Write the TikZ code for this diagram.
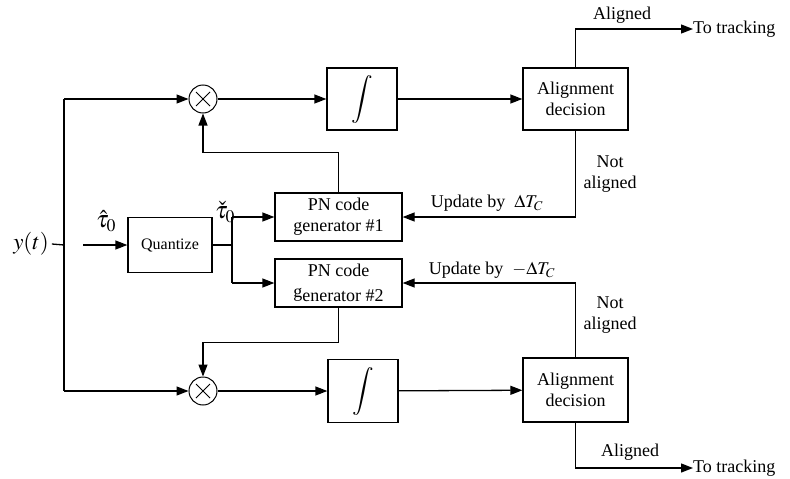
\documentclass[tikz,border=0pt]{standalone}
\usepackage{mathptmx}
\usepackage{fontspec}
\setmainfont{Liberation Serif}
\usetikzlibrary{arrows.meta,calc}
\tikzset{
  blk/.style={draw,line width=1.3pt,inner sep=0pt,align=center,font=\fontsize{18}{21}\selectfont},
  mult/.style={draw,circle,line width=1pt,minimum size=28pt,inner sep=0pt,
    path picture={\draw[line width=0.8pt] (path picture bounding box.north west)++(7,7) -- ++(14,14);
                  \draw[line width=0.8pt] (path picture bounding box.north west)++(21,7) -- ++(-14,14);}},
  wire/.style={line width=1.3pt},
  arr/.style={wire,-{Triangle[length=12pt,width=9pt]}},
  lbl/.style={font=\fontsize{18}{21}\selectfont,align=center,inner sep=0pt},
}
\begin{document}
\begin{tikzpicture}[x=1pt,y=-1pt]
\useasboundingbox (0,0) rectangle (790,479);
% nodes
\node[lbl,font=\fontsize{23}{26}\selectfont] (yt) at (31,244) {$y(t)$};
\node[mult] (m1) at (203,99) {};
\node[mult] (m2) at (203,391) {};
\node[blk,minimum width=70pt,minimum height=62pt] (int1) at (362,99) {\fontsize{24}{26}\selectfont$\displaystyle\int$};
\node[blk,minimum width=70pt,minimum height=63pt] (int2) at (363,391) {\fontsize{24}{26}\selectfont$\displaystyle\int$};
\node[blk,minimum width=105pt,minimum height=62pt] (ad1) at (575.5,99) {Alignment\\decision};
\node[blk,minimum width=105pt,minimum height=64pt] (ad2) at (575.5,390) {Alignment\\decision};
\node[blk,minimum width=127pt,minimum height=48pt] (pn1) at (338.5,217) {PN code\\generator \#1};
\node[blk,minimum width=127pt,minimum height=48pt] (pn2) at (338.5,283) {PN code\\g\raisebox{-0.45ex}{enerator \#2}};
\node[blk,minimum width=84pt,minimum height=55pt,font=\fontsize{16}{19}\selectfont] (q) at (170,245) {Quantize};
\node[lbl,anchor=west] (tt1) at (693,29) {To tracking};
\node[lbl,anchor=west] (tt2) at (693,468) {To tracking};
\node[lbl] (al1) at (622,15) {Aligned};
\node[lbl] (al2) at (630,452) {Aligned};
\node[lbl] (na1) at (610,174) {Not\\aligned};
\node[lbl] (na2) at (610,315) {Not\\aligned};
\node[lbl] (up1) at (487,203) {Update by \ $\Delta T_C$};
\node[lbl] (up2) at (492,270) {Update by \ $-\Delta T_C$};
\node[lbl,font=\fontsize{24}{26}\selectfont] (th) at (106,221) {$\hat{\tau}_0$};
\node[lbl,font=\fontsize{24}{26}\selectfont] (tc) at (225,212) {$\check{\tau}_0$};
% coordinates
\coordinate (v1) at (64,99);
\coordinate (v2) at (64,391);
\coordinate (vs) at (64,245);
\coordinate (qin) at (83,245);
\coordinate (j) at (232,245);
\coordinate (jt) at (232,217);
\coordinate (jb) at (232,283);
% connectors
\draw[wire] (yt.east) ++(3,0) -- (vs);
\draw[wire] (v1) -- (v2);
\draw[arr] (v1) -- (m1);
\draw[arr] (v2) -- (m2);
\draw[arr] (m1) -- (int1);
\draw[arr] (int1) -- (ad1);
\draw[arr] (m2) -- (int2);
\draw[arr] (int2) -- (ad2);
\draw[arr] (ad1.north) |- (tt1.west);
\draw[arr] (ad2.south) |- (tt2.west);
\draw[arr] (ad1.south) |- (pn1.east);
\draw[arr] (ad2.north) |- (pn2.east);
\draw[arr] (pn1.north) -- ($(pn1.north)+(0,-40)$) -| (m1.south);
\draw[arr] (pn2.south) -- ($(pn2.south)+(0,35)$) -| (m2.north);
\draw[arr] (qin) -- (q.west);
\draw[wire] (q.east) -- (j);
\draw[wire] (jt) -- (jb);
\draw[arr] (jt) -- (pn1.west);
\draw[arr] (jb) -- (pn2.west);
\end{tikzpicture}
\end{document}
